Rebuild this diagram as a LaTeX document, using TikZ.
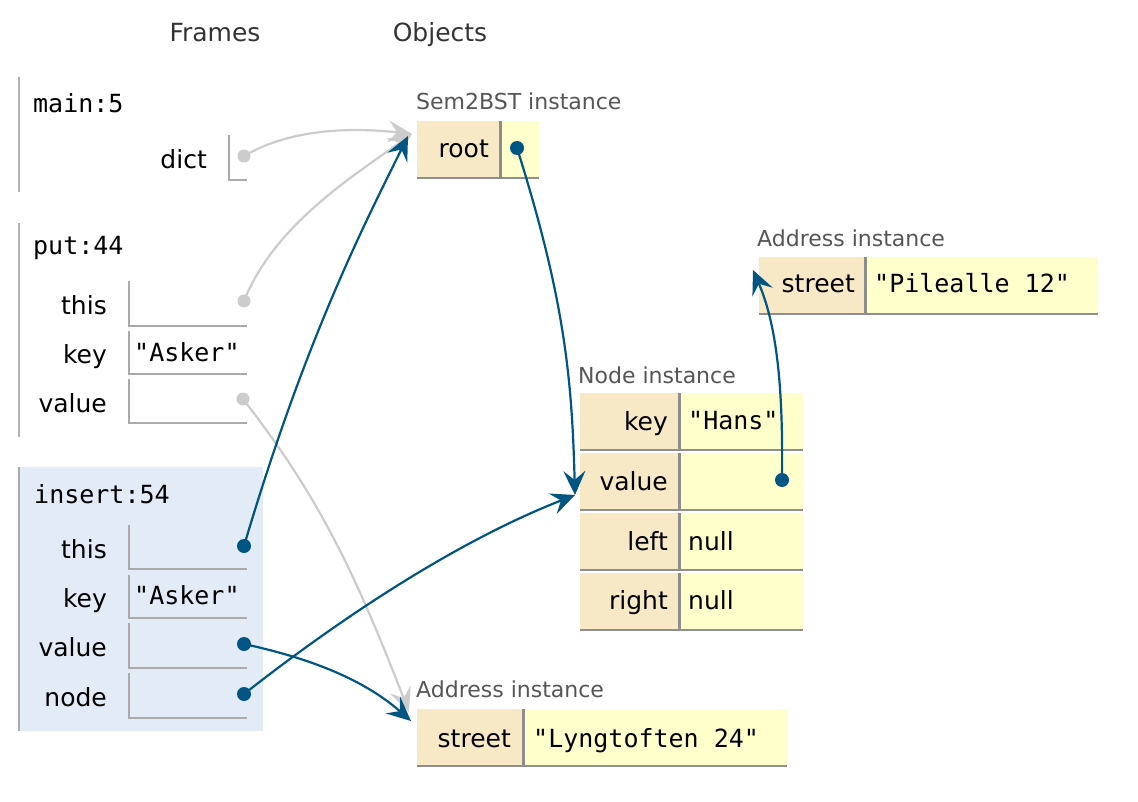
\documentclass[tikz,border=0pt]{standalone}
\usepackage{fontspec}
\setmainfont{DejaVu Sans}
\setmonofont{DejaVu Sans Mono}
\usetikzlibrary{arrows.meta}
\definecolor{keybg}{HTML}{F7E8C6}
\definecolor{valbg}{HTML}{FFFFCC}
\definecolor{framebg}{HTML}{E2EBF6}
\definecolor{ptr}{HTML}{005583}
\definecolor{ptrgray}{HTML}{CCCCCC}
\definecolor{cellline}{HTML}{8E8E8E}
\definecolor{boxline}{HTML}{AAAAAA}
\definecolor{barline}{HTML}{B0B4B8}
\definecolor{hdr}{HTML}{333333}
\definecolor{inst}{HTML}{555555}
\begin{document}
\begin{tikzpicture}[x=1pt,y=-1pt,
  hdrtxt/.style={font=\fontsize{25}{30}\selectfont, text=hdr, inner sep=0, anchor=base},
  lbl/.style={font=\fontsize{25}{30}\selectfont, inner sep=0, anchor=base east},
  vtxt/.style={font=\fontsize{25}{30}\selectfont, inner sep=0, anchor=base west},
  mono/.style={font=\ttfamily\fontsize{25}{30}\selectfont, inner sep=0, anchor=base west},
  insttxt/.style={font=\fontsize{22}{26}\selectfont, text=inst, inner sep=0, anchor=base west},
  keycell/.style={fill=keybg, inner sep=0, outer sep=0, anchor=north west, minimum height=58pt},
  valcell/.style={fill=valbg, inner sep=0, outer sep=0, anchor=north west, minimum height=58pt},
  cellrule/.style={draw=cellline, line width=2.5pt},
  vbox/.style={inner sep=0, outer sep=0, anchor=north west, minimum width=118pt},
  boxrule/.style={draw=boxline, line width=2pt},
  framebar/.style={draw=barline, line width=2.2pt},
  gdot/.style={circle, fill=ptrgray, inner sep=0, minimum size=13pt},
  bdot/.style={circle, fill=ptr, inner sep=0, minimum size=14pt},
  tipshape/.style={-{Stealth[length=24pt,width=22pt,inset=9pt]}},
  gptr/.style={draw=ptrgray, line width=2.2pt, tipshape},
  bptr/.style={draw=ptr, line width=2.2pt, tipshape},
]
\useasboundingbox (0,0) rectangle (1138,802);

% ---------- headers ----------
\node[hdrtxt] (hframes) at (215,42) {Frames};
\node[hdrtxt] (hobjects) at (440,42) {Objects};

% ---------- frame main:5 ----------
\coordinate (mainA) at (19,77);
\coordinate (mainB) at (19,192);
\draw[framebar] (mainA) -- (mainB);
\node[mono] (fmain) at (33,113) {main:5};
\node[lbl] (ldict) at (207,169) {dict};
\node[vbox, minimum width=18pt, minimum height=45pt] (bdict) at (229,135) {};
\draw[boxrule] (bdict.north west) -- (bdict.south west) -- (bdict.south east);

% ---------- frame put:44 ----------
\coordinate (putA) at (19,223);
\coordinate (putB) at (19,437);
\draw[framebar] (putA) -- (putB);
\node[mono] (fput) at (33,255) {put:44};
\node[lbl] (lpthis) at (107,315) {this};
\node[lbl] (lpkey) at (107,363) {key};
\node[lbl] (lpval) at (107,412) {value};
\node[vbox, minimum height=45pt] (bpthis) at (129,281) {};
\node[vbox, minimum height=43pt] (bpkey) at (129,331) {};
\node[vbox, minimum height=44pt] (bpval) at (129,379) {};
\foreach \b in {bpthis,bpkey,bpval}
  \draw[boxrule] (\b.north west) -- (\b.south west) -- (\b.south east);
\node[mono] (vpkey) at (134,361) {"Asker"};

% ---------- frame insert:54 ----------
\node[fill=framebg, inner sep=0, outer sep=0, anchor=north west,
      minimum width=245pt, minimum height=264pt] (insfr) at (18,467) {};
\draw[framebar, draw=boxline] (insfr.north west) ++(1.1,0) -- ([xshift=1.1pt]insfr.south west);
\node[mono] (fins) at (34,503) {insert:54};
\node[lbl] (lithis) at (107,558) {this};
\node[lbl] (likey) at (107,607) {key};
\node[lbl] (lival) at (107,656) {value};
\node[lbl] (linode) at (107,706) {node};
\node[vbox, minimum height=44pt] (bithis) at (129,525) {};
\node[vbox, minimum height=43pt] (bikey) at (129,575) {};
\node[vbox, minimum height=45pt] (bival) at (129,623) {};
\node[vbox, minimum height=45pt] (binode) at (129,673) {};
\foreach \b in {bithis,bikey,bival,binode}
  \draw[boxrule] (\b.north west) -- (\b.south west) -- (\b.south east);
\node[mono] (vikey) at (134,604) {"Asker"};

% ---------- Sem2BST instance ----------
\node[insttxt] (isem) at (416,110) {Sem2BST instance};
\node[keycell, minimum width=82pt] (rootk) at (417,121) {};
\node[valcell, minimum width=38pt] (rootv) at (501,121) {};
\draw[cellrule] ([xshift=1.5pt]rootk.north east) -- ([xshift=1.5pt,yshift=1.2pt]rootk.south east);
\draw[cellrule] ([yshift=1.2pt]rootk.south west) -- ([yshift=1.2pt]rootv.south east);
\node[lbl] (troot) at (489,158) {root};

% ---------- Address instance (top) ----------
\node[insttxt] (iaddr1) at (757,247) {Address instance};
\node[keycell, minimum width=105pt] (a1k) at (759,257) {};
\node[valcell, minimum width=232pt] (a1v) at (866,257) {};
\draw[cellrule] ([xshift=1.5pt]a1k.north east) -- ([xshift=1.5pt,yshift=1.2pt]a1k.south east);
\draw[cellrule] ([yshift=1.2pt]a1k.south west) -- ([yshift=1.2pt]a1v.south east);
\node[lbl] (ta1k) at (855,293) {street};
\node[mono] (ta1v) at (874,293) {"Pilealle 12"};

% ---------- Node instance ----------
\node[insttxt] (inode) at (578,383) {Node instance};
\foreach \n/\yy in {1/393,2/453,3/513,4/573}{
  \node[keycell, minimum width=98pt] (n\n k) at (580,\yy) {};
  \node[valcell, minimum width=123pt] (n\n v) at (680,\yy) {};
  \draw[cellrule] ([xshift=1.5pt]n\n k.north east) -- ([xshift=1.5pt,yshift=1.2pt]n\n k.south east);
  \draw[cellrule] ([yshift=1.2pt]n\n k.south west) -- ([yshift=1.2pt]n\n v.south east);
}
\node[lbl] (tn1k) at (668,430) {key};
\node[mono] (tn1v) at (688,429) {"Hans"};
\node[lbl] (tn2k) at (668,490) {value};
\node[lbl] (tn3k) at (668,550) {left};
\node[vtxt] (tn3v) at (688,550) {null};
\node[lbl] (tn4k) at (668,609) {right};
\node[vtxt] (tn4v) at (688,609) {null};

% ---------- Address instance (bottom) ----------
\node[insttxt] (iaddr2) at (416,697) {Address instance};
\node[keycell, minimum width=105pt] (a2k) at (417,709) {};
\node[valcell, minimum width=263pt] (a2v) at (524,709) {};
\draw[cellrule] ([xshift=1.5pt]a2k.north east) -- ([xshift=1.5pt,yshift=1.2pt]a2k.south east);
\draw[cellrule] ([yshift=1.2pt]a2k.south west) -- ([yshift=1.2pt]a2v.south east);
\node[lbl] (ta2k) at (511,747) {street};
\node[mono] (ta2v) at (533,747) {"Lyngtoften 24"};

% ---------- pointer targets ----------
\coordinate (tRoot) at (412,134);
\coordinate (tRootB) at (408,136);
\coordinate (tNodeVal) at (575,495);
\coordinate (tAddrTop) at (753,270);
\coordinate (tAddrBot) at (411,721);
\coordinate (tAddrBotG) at (409,712);

% ---------- dots ----------
\node[gdot] (ddict) at (244,156) {};
\node[gdot] (dpthis) at (244,301) {};
\node[gdot] (dpval) at (243,399) {};
\node[bdot] (dithis) at (244,546) {};
\node[bdot] (dival) at (244,644) {};
\node[bdot] (dinode) at (244,694) {};
\node[bdot] (droot) at (517,148) {};
\node[bdot] (dnval) at (782,480) {};

% ---------- gray pointers ----------
\draw[gptr] (ddict.center) .. controls (285,132) and (340,126) .. (tRoot);
\draw[gptr] (dpthis.center) .. controls (274,226) and (350,178) .. (tRoot);
\draw[gptr] (dpval.center) .. controls (321,499) and (357,578) .. (tAddrBotG);

% ---------- blue pointers ----------
\draw[bptr] (dithis.center) .. controls (305,340) and (363,227) .. (tRootB);
\draw[bptr] (droot.center) .. controls (565,300) and (572,380) .. (tNodeVal);
\draw[bptr] (dnval.center) .. controls (783,400) and (779,330) .. (tAddrTop);
\draw[bptr] (dival.center) .. controls (304,657) and (361,677) .. (tAddrBot);
\draw[bptr] (dinode.center) .. controls (364,600) and (473,535) .. (tNodeVal);
\end{tikzpicture}
\end{document}
